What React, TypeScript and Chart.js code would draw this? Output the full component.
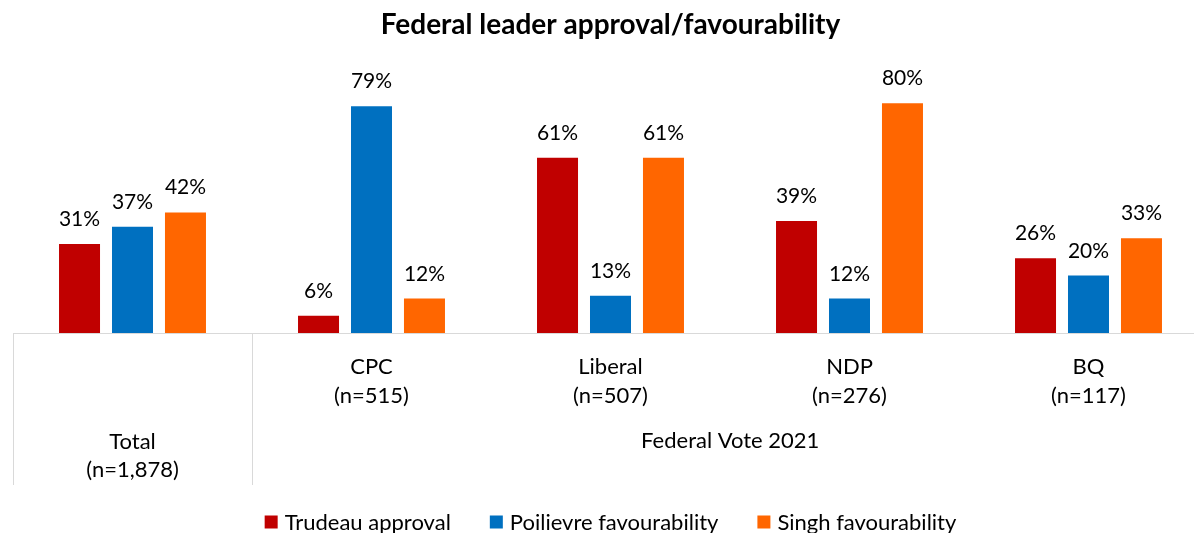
import React, { useEffect, useRef } from "react";
import { Chart, registerables } from "chart.js";

Chart.register(...registerables);

const chartTitle = "Federal leader approval/favourability";
const categories = ["Total", "CPC", "Liberal", "NDP", "BQ"];
const sampleSizes = ["(n=1,878)", "(n=515)", "(n=507)", "(n=276)", "(n=117)"];
const groupLabel = "Federal Vote 2021";
const seriesNames = ["Trudeau approval", "Poilievre favourability", "Singh favourability"];
const trudeau = [31, 6, 61, 39, 26];
const poilievre = [37, 79, 13, 12, 20];
const singh = [42, 12, 61, 80, 33];
const seriesColors = ["#C00000", "#0070C0", "#FF6600"];

const FONT = "Lato, 'Open Sans', sans-serif";

const overlayPlugin = {
  id: "overlay",
  afterDatasetsDraw(chart: any) {
    const ctx = chart.ctx;
    const area = chart.chartArea;
    const xs = chart.scales.x;
    ctx.save();
    // data labels
    ctx.fillStyle = "#000";
    ctx.font = `21px ${FONT}`;
    ctx.textAlign = "center";
    ctx.textBaseline = "alphabetic";
    chart.data.datasets.forEach((ds: any, di: number) => {
      const meta = chart.getDatasetMeta(di);
      meta.data.forEach((bar: any, i: number) => {
        ctx.fillText(`${ds.data[i]}%`, bar.x, bar.y - 18);
      });
    });
    // category axis lines
    const half = (xs.getPixelForValue(1) - xs.getPixelForValue(0)) / 2;
    const sepX = Math.round(xs.getPixelForValue(0) + half) + 0.5;
    const leftX = Math.round(area.left) + 0.5;
    const y0 = area.bottom;
    const y1 = area.bottom + 152;
    ctx.strokeStyle = "#D9D9D9";
    ctx.lineWidth = 1;
    ctx.beginPath();
    ctx.moveTo(leftX, y0);
    ctx.lineTo(leftX, y1);
    ctx.moveTo(sepX, y0);
    ctx.lineTo(sepX, y1);
    ctx.stroke();
    // category labels
    ctx.font = `22px ${FONT}`;
    ctx.textBaseline = "middle";
    categories.forEach((c, i) => {
      const x = xs.getPixelForValue(i);
      if (i === 0) {
        ctx.fillText(c, x, y0 + 109);
        ctx.fillText(sampleSizes[i], x, y0 + 137);
      } else {
        ctx.fillText(c, x, y0 + 34);
        ctx.fillText(sampleSizes[i], x, y0 + 63);
      }
    });
    const groupCenter = (sepX + xs.getPixelForValue(categories.length - 1) + half) / 2;
    ctx.fillText(groupLabel, groupCenter, y0 + 108);
    // legend
    ctx.font = `22px ${FONT}`;
    ctx.textAlign = "left";
    const box = 13;
    const gapText = 7;
    const gapItem = 39;
    const widths = chart.data.datasets.map((ds: any) => ctx.measureText(ds.label).width);
    const total = widths.reduce((a: number, w: number) => a + box + gapText + w, 0) + gapItem * (widths.length - 1);
    let lx = (area.left + area.right) / 2 - total / 2;
    const ly = 522;
    chart.data.datasets.forEach((ds: any, di: number) => {
      ctx.fillStyle = ds.backgroundColor;
      ctx.fillRect(lx, ly - box / 2, box, box);
      ctx.fillStyle = "#000";
      ctx.fillText(ds.label, lx + box + gapText, ly + 1);
      lx += box + gapText + widths[di] + gapItem;
    });
    ctx.restore();
  },
};

export default function App() {
  const canvasRef = useRef<HTMLCanvasElement | null>(null);

  useEffect(() => {
    if (!canvasRef.current) return;
    const seriesData = [trudeau, poilievre, singh];
    const chart = new Chart(canvasRef.current, {
      type: "bar",
      data: {
        labels: categories,
        datasets: seriesData.map((d, i) => ({
          label: seriesNames[i],
          data: d,
          backgroundColor: seriesColors[i],
          borderWidth: 0,
          categoryPercentage: 0.665,
          barPercentage: 0.774,
        })),
      },
      options: {
        animation: false,
        responsive: true,
        maintainAspectRatio: false,
        layout: { padding: { left: 13, right: 8, top: 0, bottom: 0 } },
        plugins: {
          legend: { display: false },
          tooltip: { enabled: false },
          title: {
            display: true,
            text: chartTitle,
            color: "#000",
            font: { family: FONT, size: 28, weight: "bold" },
            padding: { top: 8, bottom: 33 },
          },
        },
        scales: {
          x: {
            display: true,
            grid: { display: false },
            ticks: { display: false },
            border: { display: true, color: "#D9D9D9", width: 1 },
            afterFit: (scale: any) => {
              scale.height = 200;
            },
          },
          y: {
            display: false,
            min: 0,
            max: 90,
          },
        },
      },
      plugins: [overlayPlugin],
    });
    return () => chart.destroy();
  }, []);

  return (
    <div style={{ position: "absolute", left: 0, top: 0, width: 1194, height: 533, overflow: "hidden", background: "#fff" }}>
      <div style={{ position: "relative", width: 1216, height: 533 }}>
        <canvas ref={canvasRef} />
      </div>
    </div>
  );
}
